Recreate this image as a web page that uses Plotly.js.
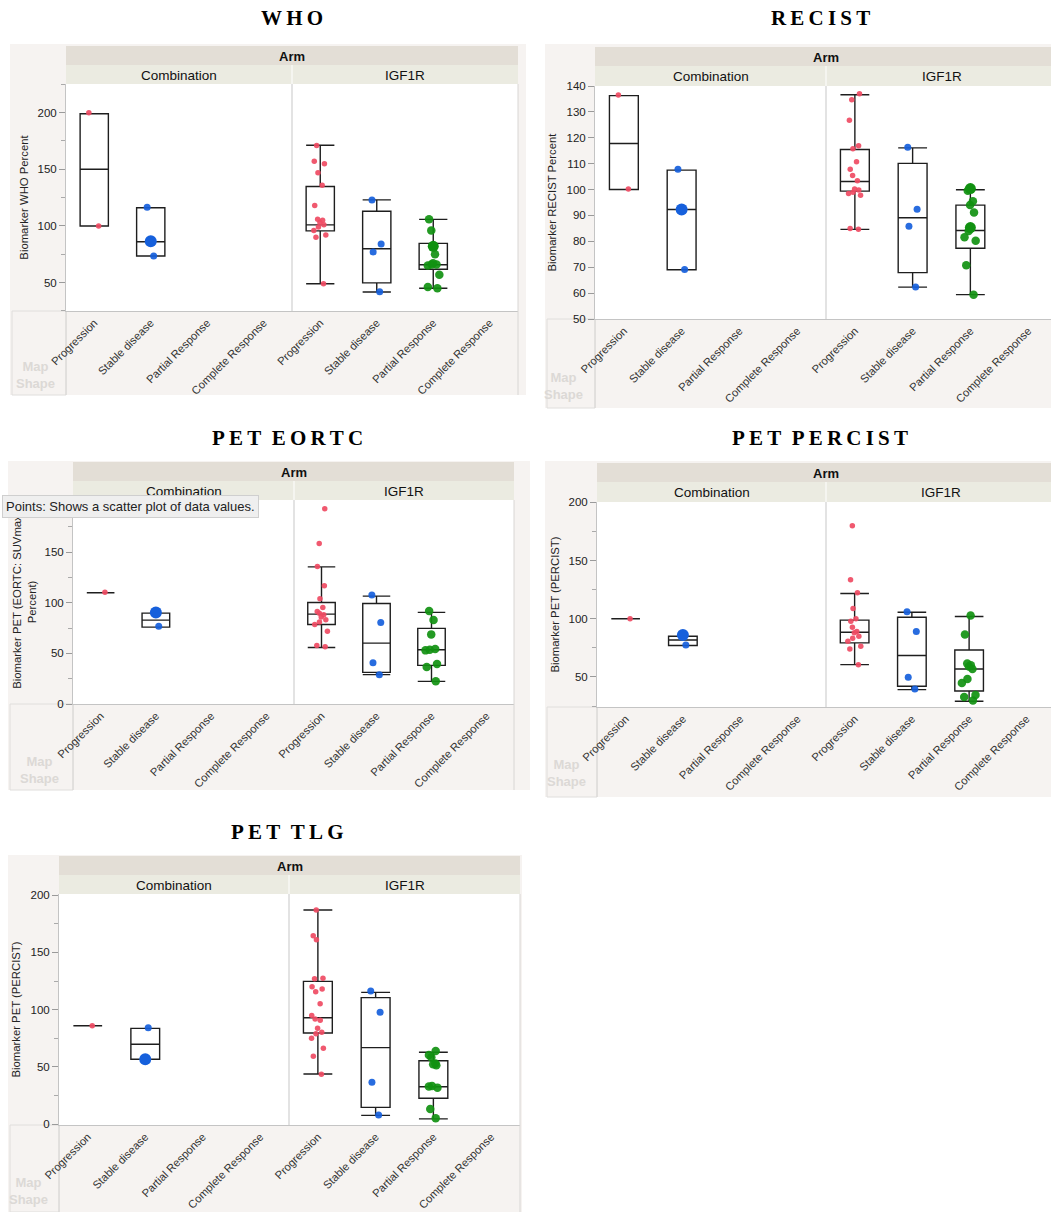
<!DOCTYPE html>
<html><head><meta charset="utf-8">
<script src="https://cdn.plot.ly/plotly-3.0.1.min.js"></script>
<style>html,body{margin:0;padding:0;background:#fff}</style>
</head><body>
<div id="chart" style="width:1051px;height:1212px"></div>
<script>
// ---------- data ----------
const categories = ["Progression", "Stable disease", "Partial Response", "Complete Response"];
const arms = ["Combination", "IGF1R"];
const panelTitles = ["W\u2009H\u2009O", "R\u2009E\u2009C\u2009I\u2009S\u2009T", "P\u2009E\u2009T\u2002E\u2009O\u2009R\u2009T\u2009C", "P\u2009E\u2009T\u2002P\u2009E\u2009R\u2009C\u2009I\u2009S\u2009T", "P\u2009E\u2009T\u2002T\u2009L\u2009G"];
const yTitles = ["Biomarker WHO Percent", "Biomarker RECIST Percent", "Biomarker PET (EORTC: SUVmax<br>Percent)", "Biomarker PET (PERCIST)", "Biomarker PET (PERCIST)"];

// box rows: [lower whisker, Q1, median, Q3, upper whisker], one row per response category
// WHO
const whoCombPoints = [[200, 100], [116.5, 73.5], []];
const whoIgfPoints = [[171, 157, 155, 147, 136, 118, 106, 105, 103, 101, 99, 96, 92, 90, 49], [123, 84, 77, 42], [106, 96, 75, 67, 66, 66, 65, 57, 46, 45]];
const whoCombBoxes = [[100, 100, 150, 199, 199], [73.5, 73.5, 86, 116, 116]];
const whoIgfBoxes = [[49, 95.6, 100.9, 134.8, 171.2], [41.7, 49.7, 79.8, 112.9, 123], [45, 61.8, 65.7, 84.6, 105.8]];
const whoLarge = [["Combination", "Stable disease", 86.5], ["IGF1R", "Partial Response", 82]];
// RECIST
const recistCombPoints = [[136.5, 100.2], [107.8, 69.1], []];
const recistIgfPoints = [[137, 134.7, 126.8, 116.9, 115.8, 110.7, 107.8, 105.4, 103.4, 100.2, 99.8, 99, 98.5, 97.8, 85, 84.7], [116.3, 92.4, 85.8, 62.4], [99.5, 95.5, 94, 91.1, 84, 81.6, 80.2, 70.8, 59.4]];
const recistCombBoxes = [[100, 100, 117.8, 136.3, 136.3], [69, 69, 92.3, 107.5, 107.5]];
const recistIgfBoxes = [[84.6, 99.4, 103.1, 115.5, 136.6], [62.3, 67.9, 89.1, 110.1, 116.1], [59.4, 77.3, 84.2, 94.0, 99.9]];
const recistLarge = [["Combination", "Stable disease", 92.3], ["IGF1R", "Partial Response", 100.4], ["IGF1R", "Partial Response", 85.3]];
// PET EORTC
const eortcCombPoints = [[110.5], [76.8], []];
const eortcIgfPoints = [[193, 158.6, 136, 116.8, 104, 95.4, 91.4, 89.8, 88.2, 86, 83.2, 81, 78.6, 72, 57.9, 56.6], [107.6, 80.6, 40.8, 29], [92, 83, 68.8, 54.3, 53.5, 53, 39.5, 36.5, 22.4]];
const eortcCombBoxes = [[110, 110, 110, 110, 110], [76, 76, 82.9, 89.8, 89.8]];
const eortcIgfBoxes = [[55.9, 78.6, 88.8, 100.3, 135.5], [29, 31.3, 60.2, 99.3, 106.6], [22.4, 38.2, 53.6, 74.7, 90.5]];
const eortcLarge = [["Combination", "Stable disease", 90.5]];
// PET PERCIST
const percistCombPoints = [[100], [77.5], []];
const percistIgfPoints = [[180, 133.5, 122.3, 108.8, 100, 97.9, 92.7, 89, 87.9, 85, 83.3, 80.7, 76.4, 74.1, 60.6], [106, 89, 49.7, 39.7], [102.8, 86.4, 61.5, 60, 59, 56.9, 48.3, 44.9, 34.5, 32.8, 29.7]];
const percistCombBoxes = [[100, 100, 100, 100, 100], [77, 77, 81.8, 85, 85]];
const percistIgfBoxes = [[60.6, 79.3, 88.4, 98.8, 121.7], [39.1, 42, 68.4, 101.3, 105.6], [29.1, 38, 56.9, 73.2, 101.9]];
const percistLarge = [["Combination", "Stable disease", 86.1]];
// PET TLG
const tlgCombPoints = [[86], [84.3], []];
const tlgIgfPoints = [[187, 164.5, 161, 127.5, 127, 120, 118, 115.7, 105.2, 95, 91.9, 90.7, 83.7, 80.2, 79, 75, 66.3, 59.3, 43.6], [116.3, 97.7, 36.6, 8.1], [64, 60.5, 58.4, 53, 52.3, 51.5, 33.5, 33, 32, 13.4, 5.2]];
const tlgCombBoxes = [[86, 86, 86, 86, 86], [56.7, 56.7, 69.8, 83.7, 83.7]];
const tlgIgfBoxes = [[43.9, 79.7, 93, 124.7, 186.9], [7.8, 14.8, 66.9, 110.5, 115.1], [4.7, 22.7, 32.8, 55.5, 62.8]];
const tlgLarge = [["Combination", "Stable disease", 56.7]];

const yTickVals = [[50, 100, 150, 200], [50, 60, 70, 80, 90, 100, 110, 120, 130, 140], [0, 50, 100, 150, 200], [50, 100, 150, 200], [0, 50, 100, 150, 200]];

// ---------- styling / geometry ----------
const W = 1051, H = 1212;
const px = x => x / W;
const py = y => 1 - y / H;
const catColors = ['#ef4b63', '#1660dc', '#119111'];
const catSizes = [5.5, 7, 8.5];
const largeSizes = [8, 12, 11];
const catJitter = [0.6, 0.4, 0.6];

const geo = [
  {fl: 10, fr: 526, ft: 44, fb: 395, l: 66, m: 292, r: 518, rFull: 518, t: 84, b: 311, armT: 46, subT: 65, tx: 292, ty: 18, range: [24.9, 225.3], minor: 25, stand: 6, mapX: 35, mapY: 375},
  {fl: 545, fr: 1051, ft: 44, fb: 408, l: 595, m: 826, r: 1051, rFull: 1057, t: 86, b: 319, armT: 47, subT: 66, tx: 820, ty: 18, range: [50, 140], minor: 0, stand: 7, mapX: 563, mapY: 386},
  {fl: 8, fr: 530, ft: 461, fb: 790, l: 73, m: 294, r: 514, rFull: 514, t: 500, b: 704, armT: 462, subT: 481, tx: 287, ty: 438, range: [0, 201.6], minor: 25, stand: 5, mapX: 39, mapY: 770},
  {fl: 545, fr: 1051, ft: 461, fb: 797, l: 597, m: 826, r: 1051, rFull: 1055, t: 502, b: 707, armT: 463, subT: 482, tx: 820, ty: 438, range: [24.2, 200.3], minor: 25, stand: 6, mapX: 566, mapY: 773},
  {fl: 8, fr: 522, ft: 855, fb: 1212, l: 59, m: 289, r: 520, rFull: 520, t: 894, b: 1125, armT: 856, subT: 875, tx: 287, ty: 832, range: [-0.6, 200.9], minor: 25, stand: 7, mapX: 28, mapY: 1191}
];

const panelData = [
  [whoCombPoints, whoIgfPoints, whoCombBoxes, whoIgfBoxes, whoLarge],
  [recistCombPoints, recistIgfPoints, recistCombBoxes, recistIgfBoxes, recistLarge],
  [eortcCombPoints, eortcIgfPoints, eortcCombBoxes, eortcIgfBoxes, eortcLarge],
  [percistCombPoints, percistIgfPoints, percistCombBoxes, percistIgfBoxes, percistLarge],
  [tlgCombPoints, tlgIgfPoints, tlgCombBoxes, tlgIgfBoxes, tlgLarge]
];

const FONT = 'Liberation Sans, Arial, Helvetica, sans-serif';
const traces = [];
const layout = {
  width: W, height: H,
  margin: {l: 0, r: 0, t: 0, b: 0, pad: 0},
  paper_bgcolor: '#ffffff', plot_bgcolor: 'rgba(0,0,0,0)',
  showlegend: false,
  boxmode: 'overlay', boxgap: 0.5, boxgroupgap: 0,
  font: {family: FONT, color: '#222', size: 11.3},
  shapes: [], annotations: []
};

function rect(x0, y0, x1, y1, fill, line, layer) {
  layout.shapes.push({type: 'rect', xref: 'paper', yref: 'paper', x0: px(x0), x1: px(x1), y0: py(y1), y1: py(y0),
    fillcolor: fill || 'rgba(0,0,0,0)', line: line || {width: 0}, layer: layer || 'below'});
}
function line(x0, y0, x1, y1, color, width, layer) {
  layout.shapes.push({type: 'line', xref: 'paper', yref: 'paper', x0: px(x0), x1: px(x1), y0: py(y0), y1: py(y1),
    line: {color: color, width: width || 1}, layer: layer || 'above'});
}
function text(x, y, t, font, opts) {
  layout.annotations.push(Object.assign({xref: 'paper', yref: 'paper', x: px(x), y: py(y), text: t, showarrow: false,
    xanchor: 'center', yanchor: 'middle', font: font}, opts || {}));
}

geo.forEach((g, p) => {
  const [combP, igfP, combB, igfB, large] = panelData[p];
  const yId = p === 0 ? 'y' : 'y' + (p + 1);
  const yName = p === 0 ? 'yaxis' : 'yaxis' + (p + 1);
  const xIds = [2 * p + 1, 2 * p + 2].map(i => i === 1 ? 'x' : 'x' + i);
  const xNames = [2 * p + 1, 2 * p + 2].map(i => i === 1 ? 'xaxis' : 'xaxis' + i);

  // background frame, headers, white plot areas
  rect(g.fl, g.ft, g.fr, g.fb, '#f6f3f1');
  rect(g.l, g.armT, g.rFull > W ? W : g.r, g.subT, '#e3ded6');
  rect(g.l, g.subT, g.r, g.t, '#ebebe1');
  rect(g.l, g.t, g.r, g.b, '#ffffff');
  rect(g.fl + 2, g.b, g.l, g.fb, null, {color: '#e0dedc', width: 1});
  line(g.l, g.b, g.l, g.fb, '#d8d6d4', 1, 'below');
  if (g.r < W - 2) {
    line(g.r, g.t, g.r, g.fb, '#d8d6d4', 1, 'above');
  }
  line(g.m, g.subT, g.m, g.t, '#f8f8f4', 1.5, 'above');
  line(g.m, g.t, g.m, g.b, '#dadada', 1.5, 'above');

  text(g.mapX, g.mapY, '<b>Map<br>Shape</b>', {family: FONT, size: 13, color: '#dcd9d6'});
  text((g.l + g.rFull) / 2, (g.armT + g.subT) / 2 + 0.5, '<b>Arm</b>', {family: FONT, size: 13, color: '#111'});
  text((g.l + g.m) / 2, (g.subT + g.t) / 2 + 0.5, arms[0], {family: FONT, size: 13.5, color: '#111'});
  text((g.m + g.rFull) / 2, (g.subT + g.t) / 2 + 0.5, arms[1], {family: FONT, size: 13.5, color: '#111'});
  text(g.tx, g.ty, panelTitles[p], {family: 'Liberation Serif, DejaVu Serif, serif', size: 21, color: '#000', weight: 'bold'});

  // axes
  layout[yName] = {
    domain: [py(g.b), py(g.t)], anchor: xIds[0], range: g.range, autorange: false,
    tickvals: yTickVals[p], ticks: 'outside', ticklen: 6, tickwidth: 1, tickcolor: '#9a9a9a',
    showline: true, linecolor: '#c4c4c4', linewidth: 1, showgrid: false, zeroline: false,
    tickfont: {family: FONT, size: 11.5, color: '#222'}, automargin: false, fixedrange: true,
    title: {text: yTitles[p], font: {family: FONT, size: 11.3, color: '#222'}, standoff: g.stand}
  };
  if (g.minor) {
    layout[yName].minor = {dtick: g.minor, ticks: 'outside', ticklen: 4, tickcolor: '#aaaaaa', showgrid: false};
  }
  [0, 1].forEach(f => {
    const x0 = f === 0 ? g.l : g.m;
    const x1 = f === 0 ? g.m : g.r;
    const full = f === 0 ? g.m : g.rFull;
    const span = 4 * (x1 - x0) / (full - x0);
    layout[xNames[f]] = {
      domain: [px(x0), px(x1)], anchor: yId, type: 'category',
      categoryorder: 'array', categoryarray: categories, range: [-0.5, -0.5 + span], autorange: false,
      tickangle: -45, ticks: '', showline: true, linecolor: '#c4c4c4', linewidth: 1,
      showgrid: false, zeroline: false, automargin: false, fixedrange: true,
      tickfont: {family: FONT, size: 11.2, color: '#333'}
    };
  });

  // boxes (statistics)
  [combB, igfB].forEach((boxes, f) => {
    traces.push({
      type: 'box', xaxis: xIds[f], yaxis: yId,
      x: categories.slice(0, boxes.length),
      lowerfence: boxes.map(b => b[0]), q1: boxes.map(b => b[1]), median: boxes.map(b => b[2]),
      q3: boxes.map(b => b[3]), upperfence: boxes.map(b => b[4]),
      boxpoints: false, whiskerwidth: 1, line: {color: '#1e1e1e', width: 1.4},
      fillcolor: 'rgba(0,0,0,0)', hoverinfo: 'skip'
    });
  });

  // points (jittered by the library)
  [combP, igfP].forEach((pts, f) => {
    pts.forEach((vals, c) => {
      if (!vals.length) return;
      traces.push({
        type: 'box', xaxis: xIds[f], yaxis: yId,
        x: vals.map(() => categories[c]), y: vals,
        boxpoints: 'all', jitter: catJitter[c], pointpos: 0,
        marker: {color: catColors[c], size: catSizes[c], opacity: 0.92},
        line: {width: 0, color: 'rgba(0,0,0,0)'}, fillcolor: 'rgba(0,0,0,0)',
        whiskerwidth: 0, hoveron: 'points', name: arms[f] + ' ' + categories[c]
      });
    });
  });
  large.forEach(([arm, cat, v]) => {
    const f = arms.indexOf(arm), c = categories.indexOf(cat);
    traces.push({
      type: 'scatter', mode: 'markers', xaxis: xIds[f], yaxis: yId,
      x: [cat], y: [v], marker: {color: catColors[c], size: largeSizes[c]}, name: arm + ' ' + cat
    });
  });
});

// tooltip overlay on the PET EORTC panel
layout.annotations.push({xref: 'paper', yref: 'paper', x: px(2), y: py(506), xanchor: 'left', yanchor: 'middle',
  text: 'Points: Shows a scatter plot of data values.', showarrow: false,
  font: {family: FONT, size: 13, color: '#222'}, bgcolor: '#efefef', bordercolor: '#cfcfcf', borderwidth: 1, borderpad: 3});

Plotly.newPlot('chart', traces, layout, {staticPlot: true, displayModeBar: false});
</script>
</body></html>
